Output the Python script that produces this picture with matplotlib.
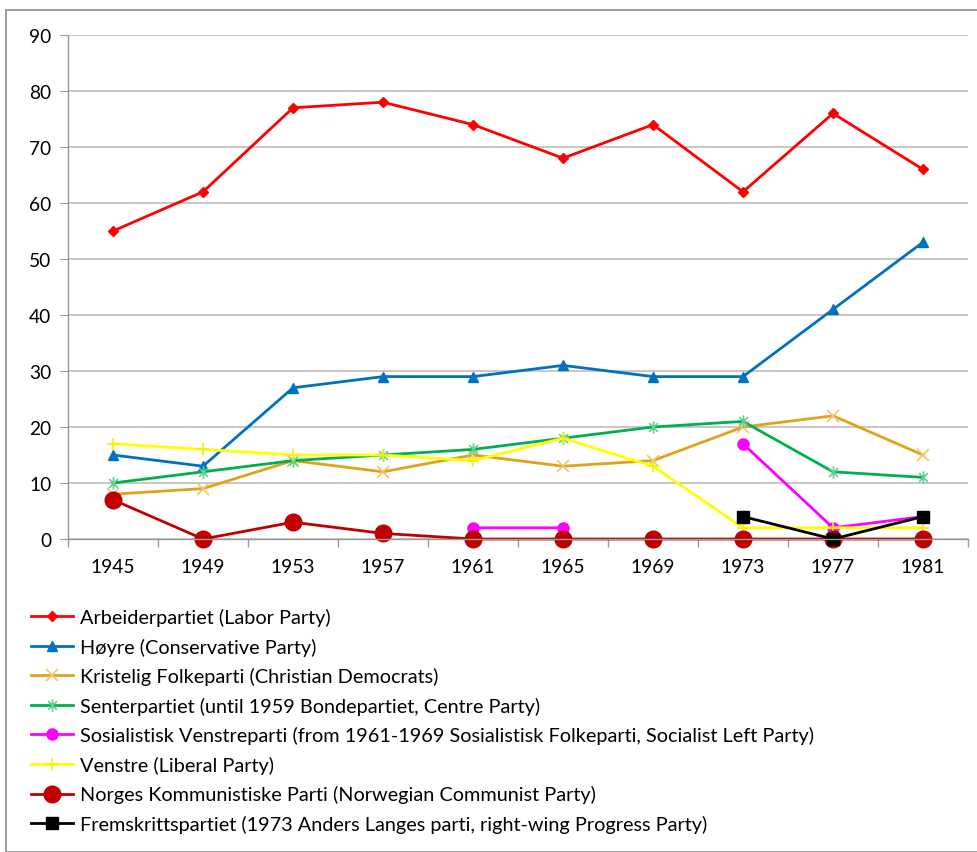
import numpy as np
import matplotlib
matplotlib.use("Agg")
import matplotlib.pyplot as plt
from matplotlib.path import Path
from matplotlib.patches import Rectangle

years = [1945, 1949, 1953, 1957, 1961, 1965, 1969, 1973, 1977, 1981]
nan = np.nan

arbeiderpartiet = [55, 62, 77, 78, 74, 68, 74, 62, 76, 66]
hoyre = [15, 13, 27, 29, 29, 31, 29, 29, 41, 53]
krf = [8, 9, 14, 12, 15, 13, 14, 20, 22, 15]
senterpartiet = [10, 12, 14, 15, 16, 18, 20, 21, 12, 11]
sv = [nan, nan, nan, nan, 2, 2, nan, 17, 2, 4]
venstre = [17, 16, 15, 15, 14, 18, 13, 2, 2, 2]
nkp = [7, 0, 3, 1, 0, 0, 0, 0, 0, 0]
frp = [nan, nan, nan, nan, nan, nan, nan, 4, 0, 4]

labels = [
    "Arbeiderpartiet (Labor Party)",
    "Høyre (Conservative Party)",
    "Kristelig Folkeparti (Christian Democrats)",
    "Senterpartiet (until 1959 Bondepartiet, Centre Party)",
    "Sosialistisk Venstreparti (from 1961-1969 Sosialistisk Folkeparti, Socialist Left Party)",
    "Venstre (Liberal Party)",
    "Norges Kommunistiske Parti (Norwegian Communist Party)",
    "Fremskrittspartiet (1973 Anders Langes parti, right-wing Progress Party)",
]

plt.rcParams["font.family"] = ["Lato", "DejaVu Sans"]

# Excel-style asterisk: x with a vertical bar
s = 0.7
asterisk = Path(
    [(-s, -s), (s, s), (-s, s), (s, -s), (0, -1), (0, 1)],
    [Path.MOVETO, Path.LINETO, Path.MOVETO, Path.LINETO, Path.MOVETO, Path.LINETO],
)

fig = plt.figure(figsize=(9.77, 8.53), dpi=100)
ax = fig.add_axes([68 / 977, 1 - 540 / 853, 900 / 977, 504 / 853])

x = np.arange(len(years))
lw = 2.0
series = [
    (arbeiderpartiet, dict(color="#FF0000", marker="D", ms=5, mfc="#FF0000", mec="#FF0000")),
    (hoyre, dict(color="#0070C0", marker="^", ms=7, mfc="#0070C0", mec="#0070C0")),
    (krf, dict(color="#E0A21A", marker="x", ms=8, mec="#F2C46E", mew=1.2)),
    (senterpartiet, dict(color="#00B050", marker=asterisk, ms=9, mec="#5FD08E", mew=1.2)),
    (sv, dict(color="#FF00FF", marker="o", ms=8, mfc="#FF00FF", mec="#FF00FF")),
    (venstre, dict(color="#FFFF00", marker="+", ms=9, mec="#F5F000", mew=1.2)),
    (nkp, dict(color="#C00000", marker="o", ms=12, mfc="#C00000", mec="#C00000")),
    (frp, dict(color="#000000", marker="s", ms=8, mfc="#000000", mec="#000000")),
]
for (vals, style), lab in zip(series, labels):
    ax.plot(x, vals, lw=lw, label=lab, clip_on=False, **style)

ax.set_xlim(-0.5, len(years) - 0.5)
ax.set_ylim(0, 90)
ax.set_yticks(range(0, 91, 10))
ax.set_xticks(x)
ax.set_xticklabels([str(y) for y in years])
ax.set_xticks(np.arange(-0.5, len(years), 1.0), minor=True)
ax.tick_params(axis="x", which="major", length=0, pad=14, labelsize=13.8, colors="#000000")
ax.tick_params(axis="x", which="minor", length=6, color="#999999", width=1)
ax.tick_params(axis="y", length=6, color="#999999", labelsize=13.8, pad=6)
ax.yaxis.grid(True, color="#BDBDBD", lw=1.2)
ax.set_axisbelow(True)
for side in ["top", "right"]:
    ax.spines[side].set_visible(False)
for side in ["left", "bottom"]:
    ax.spines[side].set_color("#999999")
    ax.spines[side].set_linewidth(1)

leg = fig.legend(
    loc="upper left", bbox_to_anchor=(23 / 977, 1 - 601 / 853),
    frameon=False, fontsize=14.3, handlelength=2.1, handletextpad=0.35,
    labelspacing=0.58, borderaxespad=0,
)

# chart border
fig.patches.append(Rectangle((6 / 977, 0), 1, 1 - 11 / 853, transform=fig.transFigure,
                             fill=False, edgecolor="#8C8C8C", lw=1.2))

fig.savefig("out.png", dpi=100)
